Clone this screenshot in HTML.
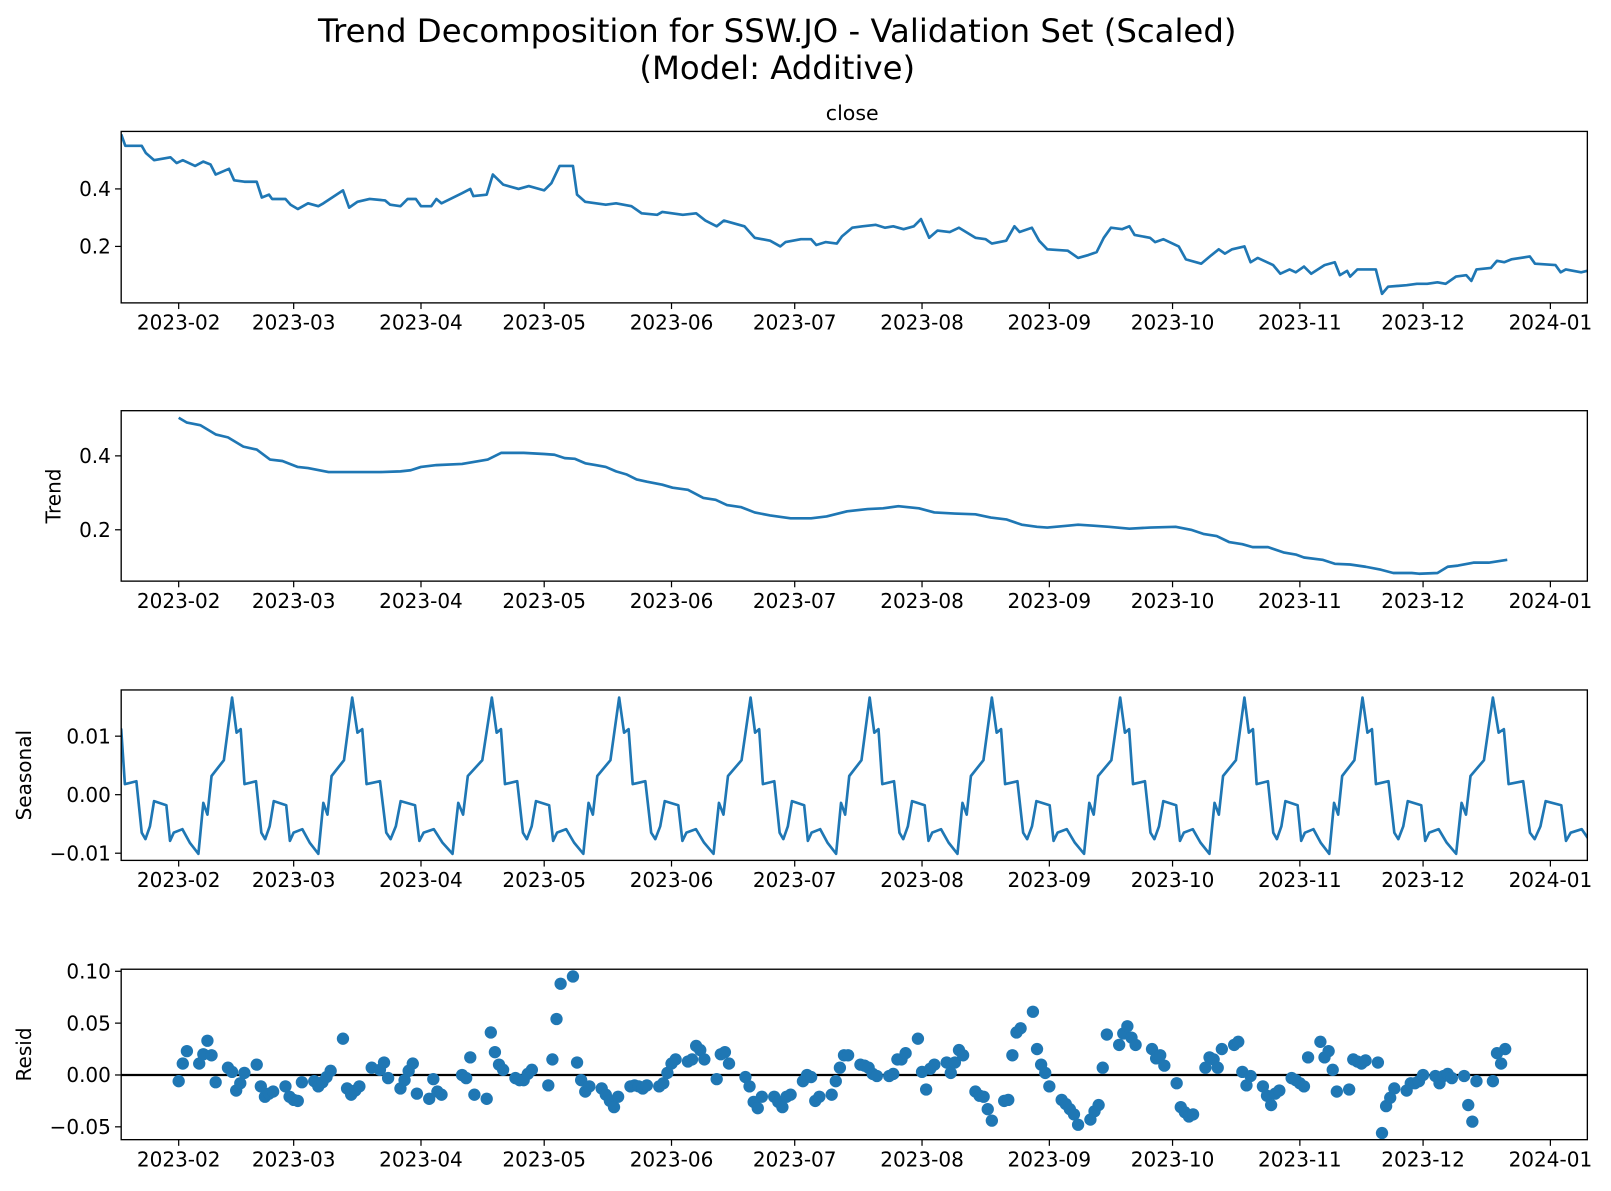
<!DOCTYPE html>
<html><head><meta charset="utf-8"><style>
html,body{margin:0;padding:0;background:#fff}
svg{display:block;font-family:"DejaVu Sans","Liberation Sans",sans-serif}
</style></head><body>
<svg id="chart" width="1611" height="1191" viewBox="0 0 1569 1160" xmlns="http://www.w3.org/2000/svg">
<text x="757" y="41" font-size="31.5" text-anchor="middle">Trend Decomposition for SSW.JO - Validation Set (Scaled)</text>
<text x="757" y="77" font-size="31.5" text-anchor="middle">(Model: Additive)</text>
<text x="830" y="117" font-size="20" text-anchor="middle">close</text>
<g id="layer"></g>
</svg>
<script>
// ---- data (x = day of year 2023, 366 = 2024-01-01) ----
const monthLabels = ["2023-02","2023-03","2023-04","2023-05","2023-06","2023-07","2023-08","2023-09","2023-10","2023-11","2023-12","2024-01"];
const monthDays = [32,60,91,121,152,182,213,244,274,305,335,366];

const closeDays = [18,19,23,24,26,30,31.5,33,36,38,39.75,41,44.25,45.5,48,51,52.25,54,54.75,58,59.25,61,63.5,66,67.25,72,73.5,75.5,78.5,82.25,83.5,86,87.75,89.75,91,93.5,94.75,96,101,103,103.75,107,108.5,111,114.75,117.25,121,122.75,124.75,128,129,131,136,138.5,142.25,144.75,148.5,149.75,154.75,158,160.25,163,164.75,169.75,172.25,176,178.5,179.75,183.5,186,187.25,189.5,192.25,193.5,196,198.5,201.75,204,206,208.5,211,212.75,214.75,216.75,219.75,222,226,228.5,230,233.5,235.5,236.75,239.75,241.5,243.5,248.5,251,253.5,255.5,257.25,259,261.75,263.5,264.75,268.5,269.75,271.75,275.5,277.25,281,283.5,285.25,286.75,288.5,291.5,293,294.75,298.5,300.25,302.5,304,306,307.75,311,313.5,314.75,316.5,317.25,319,323.5,325,326.5,331,333.5,336,338.5,340.5,343,345.5,346.75,348,351.5,353,354.75,356.5,361,362.25,367.25,368.5,369.75,373.5,375];
const closeValues = [0.59,0.55,0.55,0.525,0.50,0.51,0.49,0.50,0.48,0.495,0.485,0.45,0.47,0.43,0.425,0.425,0.37,0.38,0.365,0.365,0.345,0.33,0.35,0.34,0.35,0.395,0.335,0.355,0.365,0.36,0.345,0.34,0.365,0.365,0.34,0.34,0.365,0.35,0.385,0.40,0.375,0.38,0.45,0.415,0.40,0.41,0.395,0.42,0.48,0.48,0.38,0.355,0.345,0.35,0.34,0.315,0.31,0.32,0.31,0.315,0.29,0.27,0.29,0.27,0.23,0.22,0.20,0.215,0.225,0.225,0.205,0.215,0.21,0.235,0.265,0.27,0.275,0.265,0.27,0.26,0.27,0.295,0.23,0.255,0.25,0.265,0.23,0.225,0.21,0.22,0.27,0.25,0.265,0.22,0.19,0.185,0.16,0.17,0.18,0.23,0.265,0.26,0.27,0.24,0.23,0.215,0.225,0.20,0.155,0.14,0.17,0.19,0.175,0.19,0.20,0.145,0.16,0.135,0.105,0.12,0.11,0.13,0.105,0.135,0.145,0.10,0.115,0.095,0.12,0.12,0.035,0.06,0.065,0.07,0.07,0.075,0.07,0.095,0.10,0.08,0.12,0.125,0.15,0.145,0.155,0.165,0.14,0.135,0.11,0.12,0.11,0.115];

const trendDays = [32,34,37.25,41,44,47.75,51,54.25,57.25,61,63.5,68.5,73.5,81,86,88.5,91,94.75,101,103.5,107.25,110.5,116,121,123.5,126,128.5,131,133.5,136,138.5,141,143.5,146,149.75,152.25,156,159.75,162.75,165.5,169,172.25,176,181,186,189.75,194.75,199.75,203.5,207.25,212.25,216,221,226,229.75,233.5,237.25,241,243.5,248.5,251,254.75,258.5,263.5,268.5,274.75,278.5,281.5,284.75,287.75,291,293.5,297.25,301,304,306,310.5,313.5,317.25,321,324.75,327.75,332.25,334,338.5,341,343.5,347.25,351,355.5];
const trendValues = [0.503,0.49,0.483,0.458,0.45,0.425,0.417,0.39,0.386,0.37,0.367,0.356,0.356,0.356,0.358,0.361,0.37,0.375,0.378,0.383,0.39,0.408,0.408,0.405,0.403,0.394,0.392,0.38,0.375,0.37,0.358,0.35,0.336,0.33,0.322,0.314,0.308,0.286,0.281,0.267,0.261,0.247,0.239,0.231,0.231,0.236,0.25,0.256,0.258,0.264,0.258,0.247,0.244,0.242,0.233,0.228,0.214,0.208,0.206,0.211,0.214,0.211,0.208,0.203,0.206,0.208,0.2,0.189,0.183,0.167,0.161,0.153,0.153,0.139,0.133,0.125,0.119,0.108,0.106,0.1,0.092,0.083,0.083,0.081,0.083,0.1,0.103,0.111,0.111,0.119];

const seasonalPeakDays = [15.9,45,74.25,108.25,139.25,171.25,200.25,230,261.25,291.5,320.25,352,389];
const seasonalOffsets = [0,1.1,2.1,3.0,5.8,7.1,8.0,9.1,10.1,13.1,14.0,14.9,17.0,18.8,20.9,22.1,23.1,24.1,27.1];
const seasonalValues = [0.0166,0.0106,0.0112,0.0018,0.0023,-0.0065,-0.0076,-0.0054,-0.0011,-0.0018,-0.0079,-0.0065,-0.0059,-0.0082,-0.0101,-0.0014,-0.0034,0.0032,0.0059];
const seasonalCycleLength = 29.1;

const residDays = [32,33,34,37,38,39,40,41,44,45,46,47,48,51,52,53,54,55,58,59,60,61,62,65,66,67,68,69,72,73,74,75,76,79,81,82,83,86,87,88,89,90,93,94,95,96,101,102,103,104,107,108,109,110,111,114,115,116,117,118,122,123,124,125,128,129,130,131,132,135,136,137,138,139,142,143,144,145,146,149,150,151,152,153,156,157,158,159,160,163,164,165,166,170,171,172,173,174,177,178,179,180,181,184,185,186,187,188,191,192,193,194,195,198,199,200,201,202,205,206,207,208,209,212,213,214,215,216,219,220,221,222,223,226,227,228,229,230,233,234,235,236,237,240,241,242,243,244,247,248,249,250,251,254,255,256,257,258,261,262,263,264,265,269,270,271,272,275,276,277,278,279,282,283,284,285,286,289,290,291,292,293,296,297,298,299,300,303,304,305,306,307,310,311,312,313,314,317,318,319,320,321,324,325,326,327,328,331,332,333,334,335,338,339,340,341,342,345,346,347,348,352,353,354,355];
const residValues = [-0.006,0.011,0.023,0.011,0.020,0.033,0.019,-0.007,0.007,0.003,-0.015,-0.008,0.002,0.010,-0.011,-0.021,-0.018,-0.016,-0.011,-0.021,-0.024,-0.025,-0.007,-0.006,-0.011,-0.007,-0.002,0.004,0.035,-0.013,-0.019,-0.015,-0.011,0.007,0.005,0.012,-0.003,-0.013,-0.005,0.004,0.011,-0.018,-0.023,-0.004,-0.016,-0.019,0.0,-0.003,0.017,-0.019,-0.023,0.041,0.022,0.010,0.005,-0.003,-0.005,-0.005,0.001,0.005,-0.010,0.015,0.054,0.088,0.095,0.012,-0.005,-0.016,-0.011,-0.013,-0.019,-0.025,-0.031,-0.021,-0.011,-0.010,-0.011,-0.013,-0.010,-0.011,-0.008,0.002,0.011,0.015,0.013,0.015,0.028,0.024,0.015,-0.004,0.020,0.022,0.011,-0.002,-0.011,-0.026,-0.032,-0.021,-0.021,-0.026,-0.031,-0.021,-0.019,-0.006,0.0,-0.002,-0.025,-0.021,-0.019,-0.006,0.007,0.019,0.019,0.010,0.009,0.007,0.001,-0.001,-0.001,0.001,0.015,0.015,0.021,0.035,0.003,-0.014,0.006,0.010,0.012,0.002,0.012,0.024,0.019,-0.016,-0.020,-0.021,-0.033,-0.044,-0.025,-0.024,0.019,0.041,0.045,0.061,0.025,0.010,0.002,-0.011,-0.024,-0.028,-0.033,-0.038,-0.048,-0.043,-0.035,-0.029,0.007,0.039,0.029,0.040,0.047,0.036,0.029,0.025,0.016,0.019,0.009,-0.008,-0.031,-0.036,-0.040,-0.038,0.007,0.017,0.015,0.007,0.025,0.029,0.032,0.003,-0.010,-0.001,-0.011,-0.020,-0.029,-0.018,-0.015,-0.003,-0.005,-0.008,-0.011,0.017,0.032,0.017,0.023,0.005,-0.016,-0.014,0.015,0.013,0.011,0.014,0.012,-0.056,-0.030,-0.022,-0.013,-0.015,-0.008,-0.008,-0.006,0.0,-0.001,-0.008,-0.001,0.001,-0.003,-0.001,-0.029,-0.045,-0.006,-0.006,0.021,0.011,0.025];

const closeTicks = [0.2,0.4];
const trendTicks = [0.2,0.4];
const seasonalTicks = [-0.01,0.0,0.01];
const seasonalTickLabels = ["−0.01","0.00","0.01"];
const residTicks = [-0.05,0.0,0.05,0.10];
const residTickLabels = ["−0.05","0.00","0.05","0.10"];

// ---- layout ----
const NS = "http://www.w3.org/2000/svg";
const layer = document.getElementById('layer');
const X0 = 118, X1 = 1546;
const xScale = d => 46 + 4 * d;
function mk(tag, attrs, parent) {
  const e = document.createElementNS(NS, tag);
  for (const k in attrs) e.setAttribute(k, attrs[k]);
  (parent || layer).appendChild(e);
  return e;
}
function linScale(v0, p0, v1, p1) { return v => p0 + (v - v0) * (p1 - p0) / (v1 - v0); }

const panels = [
  {key:'close', top:128, bot:295, y: linScale(0.4,184,0.2,240), ticks: closeTicks, labels: closeTicks.map(v=>v.toFixed(1)), ylabel:null},
  {key:'trend', top:400, bot:566, y: linScale(0.4,444,0.2,516), ticks: trendTicks, labels: trendTicks.map(v=>v.toFixed(1)), ylabel:'Trend', ylx:59},
  {key:'seasonal', top:672, bot:838, y: linScale(0.01,717,-0.01,831), ticks: seasonalTicks, labels: seasonalTickLabels, ylabel:'Seasonal', ylx:30},
  {key:'resid', top:944, bot:1110, y: linScale(0.05,996.5,-0.05,1097.5), ticks: residTicks, labels: residTickLabels, ylabel:'Resid', ylx:30}
];

panels.forEach((p, i) => {
  const g = mk('g', {});
  
  
  const cp = mk('clipPath', {id: 'clip' + i}, g);
  mk('rect', {x: X0, y: p.top, width: X1 - X0, height: p.bot - p.top}, cp);
  p.g = g;
  p.plot = mk('g', {'clip-path': 'url(#clip' + i + ')'}, g);
  monthDays.forEach((d, j) => {
    const x = xScale(d);
    const t = mk('line', {x1: x, x2: x, y1: p.bot, y2: p.bot + 6, stroke: '#000', 'stroke-width': 1.2}, g);
    
    
    const l = mk('text', {x: x, y: p.bot + 26, 'font-size': 19.5, 'text-anchor': 'middle'}, g);
    
    
    l.textContent = monthLabels[j];
  });
  p.ticks.forEach((v, j) => {
    const y = p.y(v);
    mk('line', {x1: X0 - 6, x2: X0, y1: y, y2: y, stroke: '#000', 'stroke-width': 1.2}, g);
    const l = mk('text', {x: X0 - 10, y: y + 7, 'font-size': 19.5, 'text-anchor': 'end'}, g);
    
    
    l.textContent = p.labels[j];
  });
  if (p.ylabel) {
    const cy = (p.top + p.bot) / 2;
    const l = mk('text', {x: p.ylx, y: cy, 'font-size': 19.5, 'text-anchor': 'middle', transform: 'rotate(-90 ' + p.ylx + ' ' + cy + ')'}, g);
    
    
    l.textContent = p.ylabel;
  }
});

function linePath(days, vals, yf) {
  return days.map((d, i) => (i ? 'L' : 'M') + xScale(d).toFixed(1) + ',' + yf(vals[i]).toFixed(1)).join(' ');
}
const lineStyle = {fill: 'none', stroke: '#1f77b4', 'stroke-width': 2.6, 'stroke-linejoin': 'round'};

const cl = mk('path', Object.assign({d: linePath(closeDays, closeValues, panels[0].y)}, lineStyle), panels[0].plot);


const tl = mk('path', Object.assign({d: linePath(trendDays, trendValues, panels[1].y)}, lineStyle), panels[1].plot);


const sDays = [], sVals = [];
for (let k = 0; k < seasonalPeakDays.length - 1; k++) {
  const scale = (seasonalPeakDays[k + 1] - seasonalPeakDays[k]) / seasonalCycleLength;
  seasonalOffsets.forEach((o, j) => { sDays.push(seasonalPeakDays[k] + o * scale); sVals.push(seasonalValues[j]); });
}
const sl = mk('path', Object.assign({d: linePath(sDays, sVals, panels[2].y)}, lineStyle), panels[2].plot);


const zy = panels[3].y(0);
const zl = mk('line', {x1: X0, x2: X1, y1: zy, y2: zy, stroke: '#000', 'stroke-width': 2.2}, panels[3].plot);


residDays.forEach((d, i) => {
  const c = mk('circle', {cx: xScale(d), cy: panels[3].y(residValues[i]), r: 6, fill: '#1f77b4'}, panels[3].plot);
  
  
});
panels.forEach(p => {
  const r = mk('rect', {x: X0, y: p.top, width: X1 - X0, height: p.bot - p.top, fill: 'none', stroke: '#000', 'stroke-width': 1.3}, p.g);
  
  
});
</script>
</body></html>
